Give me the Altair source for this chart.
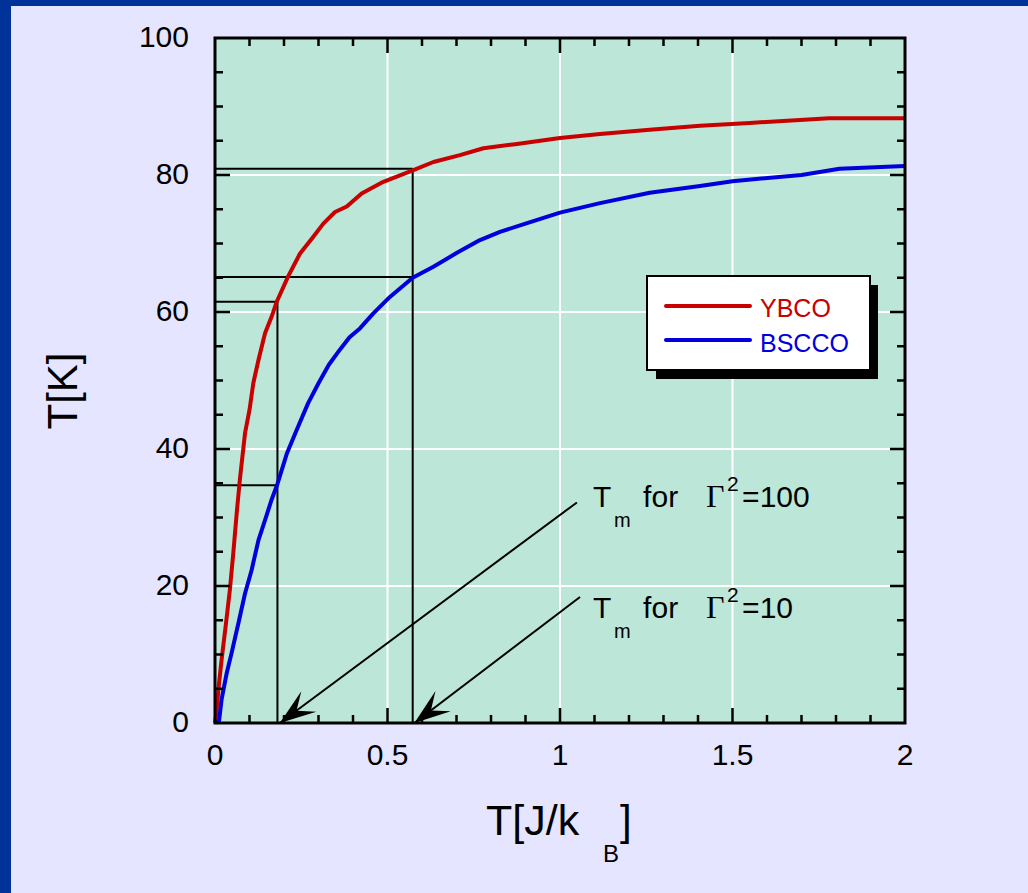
import math
import altair as alt
import pandas as pd

# ---------------- data ----------------
series_names = ["YBCO", "BSCCO"]
series_colors = ["#C80000", "#0000DC"]

ybco_x = [0.0, 0.004, 0.01, 0.019, 0.032, 0.043, 0.053, 0.063, 0.072, 0.087, 0.1, 0.111,
          0.126, 0.145, 0.164, 0.179, 0.212, 0.246, 0.285, 0.314, 0.348, 0.382, 0.425,
          0.488, 0.575, 0.633, 0.71, 0.778, 0.87, 1.0, 1.116, 1.26, 1.406, 1.55, 1.78, 2.0]
ybco_y = [0.0, 1.5, 5.0, 9.2, 14.6, 19.4, 24.8, 30.7, 35.5, 42.3, 45.7, 49.6,
          53.0, 56.9, 59.3, 61.5, 65.2, 68.5, 71.0, 72.9, 74.6, 75.4, 77.3,
          79.0, 80.7, 81.9, 82.9, 83.9, 84.5, 85.4, 86.0, 86.6, 87.2, 87.6, 88.3, 88.3]

bscco_x = [0.003, 0.012, 0.019, 0.034, 0.048, 0.068, 0.087, 0.106, 0.126, 0.145, 0.164,
           0.181, 0.208, 0.237, 0.27, 0.3, 0.33, 0.362, 0.39, 0.42, 0.459, 0.507, 0.573,
           0.633, 0.7, 0.768, 0.826, 0.9, 1.0, 1.116, 1.26, 1.406, 1.5, 1.7, 1.81, 2.0]
bscco_y = [0.0, 0.4, 3.4, 7.3, 10.2, 14.6, 18.9, 22.3, 26.7, 29.6, 32.6,
           34.9, 39.3, 42.8, 46.7, 49.6, 52.3, 54.5, 56.3, 57.6, 59.8, 62.2, 65.0,
           66.6, 68.6, 70.5, 71.7, 72.9, 74.5, 75.9, 77.4, 78.4, 79.1, 80.0, 80.9, 81.3]

x_labels = [0, 0.5, 1, 1.5, 2]
x_label_text = ["0", "0.5", "1", "1.5", "2"]
x_major = [0.5, 1.0, 1.5]
x_minor = [0.1, 0.2, 0.3, 0.4, 0.6, 0.7, 0.8, 0.9, 1.1, 1.2, 1.3, 1.4, 1.6, 1.7, 1.8, 1.9]
y_labels = [0, 20, 40, 60, 80, 100]
y_label_text = ["0", "20", "40", "60", "80", "100"]
y_major = [20, 40, 60, 80]
y_minor = [5, 10, 15, 25, 30, 35, 45, 50, 55, 65, 70, 75, 85, 90, 95]

# reading lines (T_m construction)
guide_h_y = [80.9, 65.1, 61.5, 34.7]
guide_h_x2 = [0.573, 0.573, 0.181, 0.181]
guide_v_x = [0.573, 0.181]
guide_v_y2 = [80.9, 61.5]

# annotations
ann_gamma = ["=100", "=10"]
ann_x = [1.096, 1.096]
ann_y = [31.5, 15.3]
arrow_sx = [1.049, 1.058]
arrow_sy = [32.2, 18.4]
arrow_ex = [0.188, 0.578]
arrow_ey = [0.0, 0.0]

# ---------------- layout ----------------
W, H = 690, 685
FONT = "Liberation Sans"
BG = "#E5E5FF"
PLOT_BG = "#BBE6D8"

xs = alt.Scale(domain=[0, 2], nice=False, zero=False)
ys = alt.Scale(domain=[0, 100], nice=False, zero=False)

curve_df = pd.concat([
    pd.DataFrame({"x": ybco_x, "y": ybco_y, "series": series_names[0]}),
    pd.DataFrame({"x": bscco_x, "y": bscco_y, "series": series_names[1]}),
])

curves = alt.Chart(curve_df).mark_line(strokeWidth=4, strokeJoin="round").encode(
    x=alt.X("x:Q", scale=xs, axis=None),
    y=alt.Y("y:Q", scale=ys, axis=None),
    color=alt.Color("series:N", scale=alt.Scale(domain=series_names, range=series_colors), legend=None),
    order=alt.Order("x:Q"),
)

# tick labels (drawn through the scales)
xlab = alt.Chart(pd.DataFrame({"v": x_labels, "t": x_label_text})).mark_text(
    fontSize=30, font=FONT, color="black", align="center", baseline="alphabetic").encode(
    x=alt.X("v:Q", scale=xs, axis=None), y=alt.value(H + 42), text="t:N")
ylab = alt.Chart(pd.DataFrame({"v": y_labels, "t": y_label_text})).mark_text(
    fontSize=30, font=FONT, color="black", align="right", baseline="middle").encode(
    y=alt.Y("v:Q", scale=ys, axis=None), x=alt.value(-26), text="t:N")

# grid
gx = alt.Chart(pd.DataFrame({"v": x_major})).mark_rule(color="white", strokeWidth=2).encode(
    x=alt.X("v:Q", scale=xs, axis=None), y=alt.value(0), y2=alt.value(H))
gy = alt.Chart(pd.DataFrame({"v": y_major})).mark_rule(color="white", strokeWidth=2).encode(
    y=alt.Y("v:Q", scale=ys, axis=None), x=alt.value(0), x2=alt.value(W))

# guide lines
gh = alt.Chart(pd.DataFrame({"y": guide_h_y, "x0": [0] * 4, "x2": guide_h_x2})).mark_rule(
    color="black", strokeWidth=2).encode(
    x=alt.X("x0:Q", scale=xs, axis=None), x2="x2:Q", y=alt.Y("y:Q", scale=ys, axis=None))
gv = alt.Chart(pd.DataFrame({"x": guide_v_x, "y0": [0] * 2, "y2": guide_v_y2})).mark_rule(
    color="black", strokeWidth=2).encode(
    x=alt.X("x:Q", scale=xs, axis=None), y=alt.Y("y0:Q", scale=ys, axis=None), y2="y2:Q")

# inward ticks on all four sides
def xticks(vals, length):
    d = pd.DataFrame({"v": vals})
    b = alt.Chart(d).mark_rule(color="black", strokeWidth=2.5).encode(
        x=alt.X("v:Q", scale=xs, axis=None), y=alt.value(H), y2=alt.value(H - length))
    t = alt.Chart(d).mark_rule(color="black", strokeWidth=2.5).encode(
        x=alt.X("v:Q", scale=xs, axis=None), y=alt.value(0), y2=alt.value(length))
    return [b, t]

def yticks(vals, length):
    d = pd.DataFrame({"v": vals})
    l = alt.Chart(d).mark_rule(color="black", strokeWidth=2.5).encode(
        y=alt.Y("v:Q", scale=ys, axis=None), x=alt.value(0), x2=alt.value(length))
    r = alt.Chart(d).mark_rule(color="black", strokeWidth=2.5).encode(
        y=alt.Y("v:Q", scale=ys, axis=None), x=alt.value(W), x2=alt.value(W - length))
    return [l, r]

ticks = xticks(x_minor, 8) + xticks(x_major, 15) + yticks(y_minor, 8) + yticks(y_major, 15)

one = pd.DataFrame({"a": [0]})
frame = alt.Chart(one).mark_rect(fillOpacity=0, stroke="black", strokeWidth=3).encode(
    x=alt.value(0), x2=alt.value(W), y=alt.value(0), y2=alt.value(H))

# legend (drawn by hand: labels coloured per series)
leg_shadow = alt.Chart(one).mark_rect(color="black").encode(
    x=alt.value(441), x2=alt.value(663), y=alt.value(247), y2=alt.value(341))
leg_box = alt.Chart(one).mark_rect(fill="white", stroke="black", strokeWidth=2).encode(
    x=alt.value(432), x2=alt.value(655), y=alt.value(238), y2=alt.value(332))
leg_items = []
for i, (nm, col) in enumerate(zip(series_names, series_colors)):
    d = pd.DataFrame({"name": [nm]})
    leg_items.append(alt.Chart(d).mark_rule(color=col, strokeWidth=4, strokeCap="round").encode(
        x=alt.value(451), x2=alt.value(535), y=alt.value(268 + 34 * i)))
    leg_items.append(alt.Chart(d).mark_text(color=col, fontSize=25, font=FONT, align="left",
                                            baseline="alphabetic").encode(
        text="name:N", x=alt.value(545), y=alt.value(279 + 35 * i)))

# annotation text
ann_df = pd.DataFrame({"x": ann_x, "y": ann_y, "g": ann_gamma})
def ann(text_field, dx, dy, size, font):
    return alt.Chart(ann_df).mark_text(align="left", baseline="alphabetic", fontSize=size,
                                       font=font, color="black", dx=dx, dy=dy).encode(
        x=alt.X("x:Q", scale=xs, axis=None), y=alt.Y("y:Q", scale=ys, axis=None), text=text_field)

ann_layers = [
    ann(alt.value("T"), 0, 0, 30, FONT),
    ann(alt.value("m"), 21, 20, 20, FONT),
    ann(alt.value("for"), 50, 0, 30, FONT),
    ann(alt.value("\u0393"), 113, 0, 32, "Liberation Serif"),
    ann(alt.value("2"), 134, -16, 21, FONT),
    ann("g:N", 149, 0, 30, FONT),
]

# arrows
ang = []
for sx, sy, ex, ey in zip(arrow_sx, arrow_sy, arrow_ex, arrow_ey):
    dxp = (ex - sx) * W / 2.0
    dyp = -(ey - sy) * H / 100.0
    a = math.degrees(math.atan2(dxp, -dyp)) % 360
    ang.append(a)
arr_df = pd.DataFrame({"sx": arrow_sx, "sy": arrow_sy, "ex": arrow_ex, "ey": arrow_ey, "ang": ang})
arr_lines = alt.Chart(arr_df).mark_rule(color="black", strokeWidth=2).encode(
    x=alt.X("sx:Q", scale=xs, axis=None), y=alt.Y("sy:Q", scale=ys, axis=None), x2="ex:Q", y2="ey:Q")
arr_heads = alt.Chart(arr_df).mark_point(
    shape="M0,0L-0.7,2L0,1.15L0.7,2Z", filled=True, size=1300, color="black", opacity=1,
    strokeWidth=0).encode(
    x=alt.X("ex:Q", scale=xs, axis=None), y=alt.Y("ey:Q", scale=ys, axis=None),
    angle=alt.Angle("ang:Q", scale=None))

# axis titles
def txt(s, x, y, size, angle=0, align="left", baseline="alphabetic"):
    kw = dict(text=s, fontSize=size, font=FONT, color="black", align=align, baseline=baseline)
    if angle:
        kw["angle"] = angle
    return alt.Chart(one).mark_text(**kw).encode(x=alt.value(x), y=alt.value(y))

titles = [
    txt("T[J/k", 271, 797, 43),
    txt("B", 388, 824, 24),
    txt("]", 405, 797, 42),
    txt("T[K]", -151, 353, 42, angle=270, align="center", baseline="middle"),
]

# page border
border = [
    alt.Chart(one).mark_rect(color="#003399").encode(
        x=alt.value(-215), x2=alt.value(-204), y=alt.value(-38), y2=alt.value(855)),
    alt.Chart(one).mark_rect(color="#003399").encode(
        x=alt.value(-215), x2=alt.value(813), y=alt.value(-38), y2=alt.value(-32)),
]

chart = alt.layer(
    gx, gy, gh, gv, curves, *ticks, frame, xlab, ylab, leg_shadow, leg_box, *leg_items,
    *ann_layers, arr_lines, arr_heads, *titles, *border
).properties(
    width=W, height=H,
    padding={"left": 215, "top": 38, "right": 123, "bottom": 170},
    autosize=alt.AutoSizeParams(type="none"),
    background=BG,
).configure_view(fill=PLOT_BG, stroke="transparent")

chart.save("out.html", embed_options={"renderer": "svg", "actions": False})
